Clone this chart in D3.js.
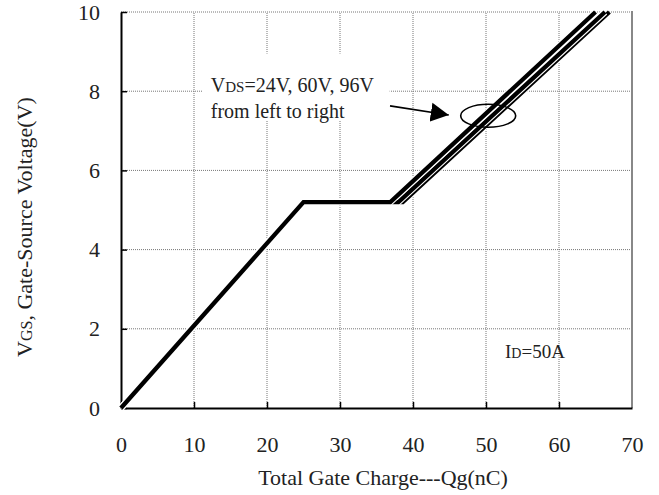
<!DOCTYPE html>
<html>
<head>
<meta charset="utf-8">
<script src="https://cdn.jsdelivr.net/npm/d3@7"></script>
<style>
  body { margin: 0; background: #fff; }
  text { font-family: "Liberation Serif", "Times New Roman", serif; fill: #222; }
</style>
</head>
<body>
<script>
// gate charge curves, one per drain-source voltage (Qg nC, Vgs V)
var series24V = [[0, 0], [25, 5.2], [36.9, 5.2], [65.0, 10]];
var series60V = [[0, 0], [25, 5.2], [38.0, 5.2], [66.3, 10]];
var series96V = [[0, 0], [25, 5.2], [38.6, 5.2], [66.9, 10]];
var xTicks = [0, 10, 20, 30, 40, 50, 60, 70];
var yTicks = [0, 2, 4, 6, 8, 10];

var width = 659, height = 495;

var x = d3.scaleLinear().domain([0, 70]).range([121, 632]);
var y = d3.scaleLinear().domain([0, 10]).range([408, 12]);

var svg = d3.select("body").append("svg")
  .attr("width", width)
  .attr("height", height);

// grid (dotted grey), top edge dotted, right edge solid grey
svg.append("g").selectAll("line")
  .data(xTicks.filter(function(d) { return d > 0 && d < 70; }))
  .enter().append("line")
  .attr("x1", function(d) { return x(d); })
  .attr("x2", function(d) { return x(d); })
  .attr("y1", y(0)).attr("y2", y(10))
  .style("stroke", "#777").style("stroke-width", 1).style("stroke-dasharray", "1,1");

svg.append("g").selectAll("line")
  .data(yTicks.filter(function(d) { return d > 0; }))
  .enter().append("line")
  .attr("x1", x(0)).attr("x2", x(70))
  .attr("y1", function(d) { return y(d); })
  .attr("y2", function(d) { return y(d); })
  .style("stroke", "#777").style("stroke-width", 1).style("stroke-dasharray", "1,1");

svg.append("line")
  .attr("x1", x(70)).attr("x2", x(70))
  .attr("y1", y(0)).attr("y2", y(10) - 1)
  .style("stroke", "#888").style("stroke-width", 2);

// white box behind annotation text
svg.append("rect")
  .attr("x", x(11.1)).attr("y", y(8.95))
  .attr("width", x(36.8) - x(11.1))
  .attr("height", y(7.25) - y(8.95))
  .attr("fill", "#fff");

// axes, ticks pointing inward
var yAxis = svg.append("g")
  .attr("transform", "translate(" + x(0) + ",0)")
  .call(d3.axisLeft(y).tickValues(yTicks).tickSizeInner(-6).tickSizeOuter(0).tickPadding(21));

var xAxis = svg.append("g")
  .attr("transform", "translate(0," + y(0) + ")")
  .call(d3.axisBottom(x).tickValues(xTicks).tickSizeInner(-6).tickSizeOuter(0).tickPadding(28));

[yAxis, xAxis].forEach(function(a) {
  a.select(".domain").style("stroke", "#000").style("stroke-width", 2);
  a.selectAll(".tick line").style("stroke", "#000").style("stroke-width", 1.5);
  a.selectAll(".tick text")
    .style("font-family", "'Liberation Serif', serif")
    .style("font-size", "22px")
    .style("fill", "#222");
});
xAxis.selectAll(".tick").filter(function(d) { return d === 70; }).select("line").remove();

// curves: white halo under each black line keeps them apart
var line = d3.line()
  .x(function(d) { return x(d[0]); })
  .y(function(d) { return y(d[1]); });

[series96V, series60V, series24V].forEach(function(s) {
  svg.append("path").datum(s)
    .attr("d", line)
    .attr("fill", "none")
    .style("stroke", "#fff").style("stroke-width", 6.5)
    .style("stroke-linejoin", "miter");
  svg.append("path").datum(s)
    .attr("d", line)
    .attr("fill", "none")
    .style("stroke", "#000").style("stroke-width", 4.3)
    .style("stroke-linejoin", "miter");
});

// annotation: text, arrow, ellipse
var note = svg.append("text")
  .attr("x", x(12.3)).attr("y", y(7.97))
  .style("font-size", "20px");
note.append("tspan").text("V");
note.append("tspan").style("font-size", "15px").text("DS");
note.append("tspan").text("=24V, 60V, 96V");

svg.append("text")
  .attr("x", x(12.3)).attr("y", y(7.32))
  .style("font-size", "20px")
  .text("from left to right");

svg.append("defs").append("marker")
  .attr("id", "head")
  .attr("markerUnits", "userSpaceOnUse")
  .attr("viewBox", "0 -10 20 20")
  .attr("markerWidth", 20).attr("markerHeight", 20)
  .attr("refX", 18).attr("refY", 0)
  .attr("orient", "auto")
  .append("path")
  .attr("d", "M0,-9.5L18,0L0,9.5Z")
  .attr("fill", "#000");

svg.append("line")
  .attr("x1", x(36.85)).attr("y1", y(7.63))
  .attr("x2", x(44.9)).attr("y2", y(7.4))
  .style("stroke", "#000").style("stroke-width", 1.6)
  .attr("marker-end", "url(#head)");

svg.append("ellipse")
  .attr("cx", x(50.3)).attr("cy", y(7.38))
  .attr("rx", 27.5).attr("ry", 11.5)
  .attr("fill", "none")
  .style("stroke", "#000").style("stroke-width", 1.6);

// drain current label
var idLabel = svg.append("text")
  .attr("x", 505).attr("y", 358)
  .style("font-size", "19px");
idLabel.append("tspan").text("I");
idLabel.append("tspan").style("font-size", "14px").text("D");
idLabel.append("tspan").text("=50A");

// axis titles
svg.append("text")
  .attr("x", 383).attr("y", 485)
  .attr("text-anchor", "middle")
  .style("font-size", "22px")
  .text("Total Gate Charge---Qg(nC)");

var yTitle = svg.append("text")
  .attr("transform", "translate(32,227) rotate(-90)")
  .attr("text-anchor", "middle")
  .style("font-size", "22px");
yTitle.append("tspan").text("V");
yTitle.append("tspan").style("font-size", "16px").text("GS");
yTitle.append("tspan").text(", Gate-Source Voltage(V)");
</script>
</body>
</html>
